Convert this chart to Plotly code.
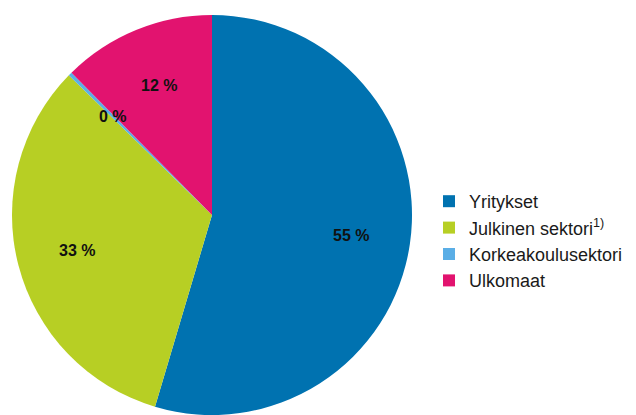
import math
import plotly.graph_objects as go

labels = ["Yritykset", "Julkinen sektori<sup>1)</sup>", "Korkeakoulusektori", "Ulkomaat"]
values = [54.6, 32.7, 0.3, 12.4]
colors = ["#0072B0", "#B7CF24", "#5AAEE6", "#E2136F"]

W, H = 636, 415
cx, cy, r = 212, 215, 200
label_r = 0.70  # relative radius where the value labels sit

dom_x = [(cx - r) / W, (cx + r) / W]
dom_y = [(H - cy - r) / H, (H - cy + r) / H]

fig = go.Figure(go.Pie(
    labels=labels,
    values=values,
    sort=False,
    direction="clockwise",
    rotation=0,
    marker=dict(colors=colors, line=dict(width=0)),
    textinfo="none",
    domain=dict(x=dom_x, y=dom_y),
    hoverinfo="label+percent",
))

# value labels placed at the middle angle of each slice
total = sum(values)
cum = 0.0
for v in values:
    ang = 2 * math.pi * (cum + v / 2) / total
    cum += v
    px = cx + label_r * r * math.sin(ang)
    py = cy - label_r * r * math.cos(ang)
    fig.add_annotation(
        x=px / W, y=1 - py / H, xref="paper", yref="paper",
        xanchor="center", yanchor="middle",
        text="<b>%d %%</b>" % round(v / total * 100),
        showarrow=False,
        font=dict(family="Liberation Sans, Arial, sans-serif", size=16, color="#111111"),
    )

fig.update_layout(
    width=W, height=H,
    margin=dict(l=0, r=0, t=0, b=0),
    paper_bgcolor="white",
    plot_bgcolor="white",
    legend=dict(
        x=429 / W, xanchor="left",
        y=1 - 241 / H, yanchor="middle",
        font=dict(family="Liberation Sans, Arial, sans-serif", size=18, color="#1a1a1a"),
        bgcolor="rgba(0,0,0,0)",
        itemwidth=30,
    ),
    showlegend=True,
)

fig.write_html("out.html", config={"displayModeBar": False},
               post_script="document.body.style.margin='0';")
